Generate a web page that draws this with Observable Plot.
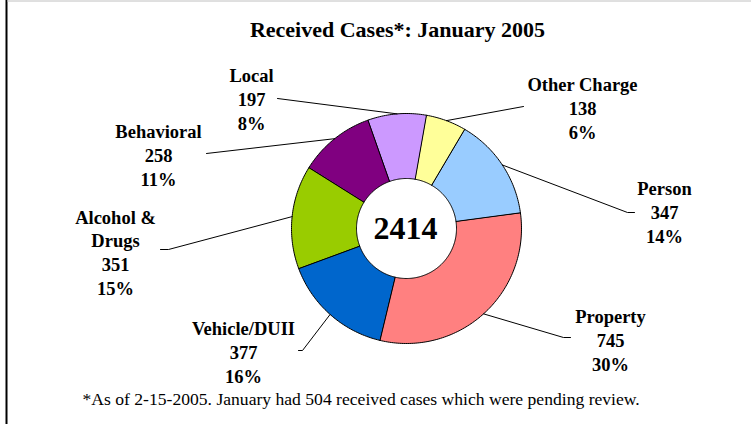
<!DOCTYPE html>
<html>
<head>
<meta charset="utf-8">
<script src="https://cdn.jsdelivr.net/npm/d3@7"></script>
<script src="https://cdn.jsdelivr.net/npm/@observablehq/plot@0.6"></script>
<style>
  html, body { margin: 0; padding: 0; background: #fff; }
  #chart svg { display: block; }
</style>
</head>
<body>
<div id="chart"></div>
<script>
// ---- Data ----
const categories = ["Other Charge", "Person", "Property", "Vehicle/DUII", "Alcohol & Drugs", "Behavioral", "Local"];
const labelNames = ["Other Charge", "Person", "Property", "Vehicle/DUII", "Alcohol &\nDrugs", "Behavioral", "Local"];
const counts = [138, 347, 745, 377, 351, 258, 197];
const percents = ["6%", "14%", "30%", "16%", "15%", "11%", "8%"];
const colors = ["#FFFF99", "#99CCFF", "#FF8080", "#0066CC", "#99CC00", "#800080", "#CC99FF"];
const totalLabel = "2414";
const titleText = "Received Cases*: January 2005";
const footnoteText = "*As of 2-15-2005. January had 504 received cases which were pending review.";

// ---- Layout ----
const W = 751, H = 424;
const CX = 406, CY = 228, R = 115, R0 = 50;
const START = 10 * Math.PI / 180;
const labelLayout = [
  {x: 582, y: 107, pts: [[523, 106]]},
  {x: 664, y: 211, pts: [[634, 212], [627, 212]]},
  {x: 610, y: 339, pts: [[570, 337], [563, 337]]},
  {x: 243, y: 351, pts: [[298, 350], [302, 350]]},
  {x: 115, y: 251, pts: [[160, 249], [168, 249]]},
  {x: 158, y: 154, pts: [[206, 153]]},
  {x: 251, y: 98,  pts: [[277, 98]]}
];

const arcs = d3.pie().sort(null).value(d => d).startAngle(START).endAngle(START + 2 * Math.PI)(counts);
const px = (r, a) => CX + r * Math.sin(a);
const py = (r, a) => CY - r * Math.cos(a);

const slicePts = [];
arcs.forEach((a, i) => {
  const n = Math.max(2, Math.ceil((a.endAngle - a.startAngle) / (Math.PI / 180)));
  for (let k = 0; k <= n; k++) {
    const t = a.startAngle + (a.endAngle - a.startAngle) * k / n;
    slicePts.push({cat: categories[i], x: px(R, t), y: py(R, t)});
  }
  for (let k = n; k >= 0; k--) {
    const t = a.startAngle + (a.endAngle - a.startAngle) * k / n;
    slicePts.push({cat: categories[i], x: px(R0, t), y: py(R0, t)});
  }
});

const leaderPts = [];
arcs.forEach((a, i) => {
  const mid = (a.startAngle + a.endAngle) / 2;
  labelLayout[i].pts.forEach(([x, y]) => leaderPts.push({cat: categories[i], x, y}));
  leaderPts.push({cat: categories[i], x: px(R, mid), y: py(R, mid)});
});

const labels = categories.map((c, i) => ({
  cat: c,
  x: labelLayout[i].x,
  y: labelLayout[i].y,
  text: `${labelNames[i]}\n${counts[i]}\n${percents[i]}`
}));

const FONT = "'Liberation Serif', 'Times New Roman', Times, serif";

const chart = Plot.plot({
  width: W,
  height: H,
  margin: 0,
  x: {domain: [0, W], range: [0, W], axis: null},
  y: {domain: [0, H], range: [0, H], axis: null},
  color: {type: "ordinal", domain: categories, range: colors},
  style: {background: "#fff", fontFamily: FONT, color: "#000"},
  marks: [
    Plot.ruleX([6], {y1: 0, y2: H, stroke: "#000", strokeWidth: 2}),
    Plot.ruleY([0.5], {x1: 7, x2: W, stroke: "#c0c0c0", strokeWidth: 1}),
    Plot.line(slicePts, {x: "x", y: "y", z: "cat", fill: "cat", stroke: "#000", strokeWidth: 1, curve: "linear-closed", strokeLinejoin: "miter"}),
    Plot.line(leaderPts, {x: "x", y: "y", z: "cat", stroke: "#000", strokeWidth: 1}),
    Plot.text(labels, {x: "x", y: "y", text: "text", fontSize: 18.5, fontWeight: "bold", lineHeight: 1.28, textAnchor: "middle", lineAnchor: "middle", fill: "#000"}),
    Plot.text([totalLabel], {x: CX - 1, y: CY, text: d => d, fontSize: 32, fontWeight: "bold", textAnchor: "middle", lineAnchor: "middle", fill: "#000"}),
    Plot.text([titleText], {x: 397, y: 29, text: d => d, fontSize: 22, fontWeight: "bold", textAnchor: "middle", lineAnchor: "middle", fill: "#000"}),
    Plot.text([footnoteText], {x: 82, y: 399, text: d => d, fontSize: 17.6, textAnchor: "start", lineAnchor: "middle", fill: "#000"})
  ]
});
document.getElementById("chart").appendChild(chart);
</script>
</body>
</html>
